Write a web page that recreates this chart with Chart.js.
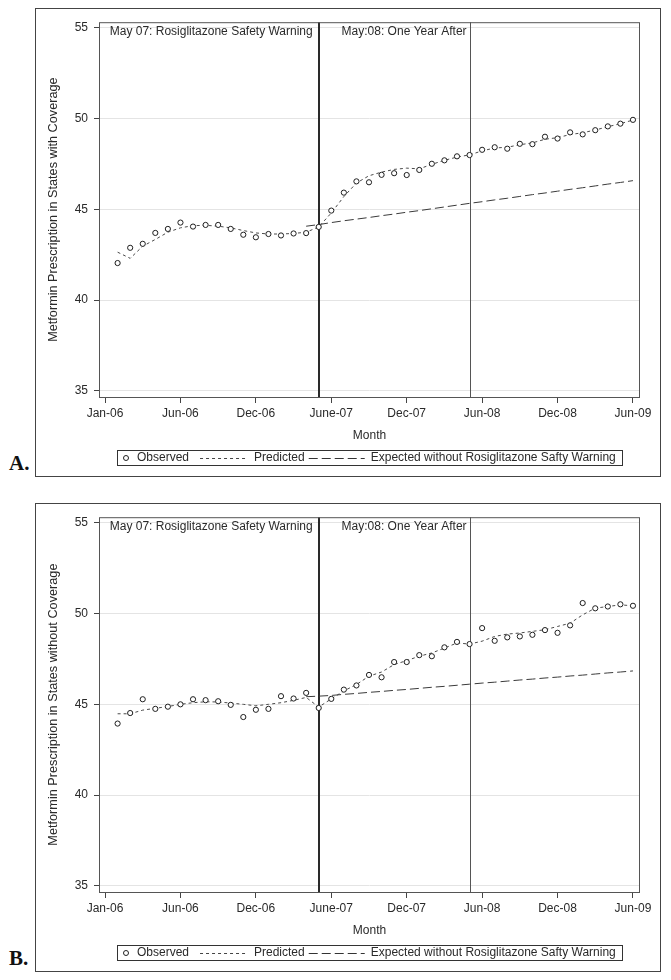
<!DOCTYPE html>
<html>
<head>
<meta charset="utf-8">
<script src="https://cdn.jsdelivr.net/npm/chart.js@4.4.0/dist/chart.umd.min.js"></script>
<style>
  body { margin: 0; background: #fff; }
  .panel { position: absolute; left: 35px; width: 626px; height: 469px; border: 1px solid #444; box-sizing: border-box; }
  .panel canvas { display: block; }
  .tag { position: absolute; left: 9px; font: bold 21px "Liberation Serif", "Times New Roman", serif; line-height: 21px; color: #111; }
</style>
</head>
<body>
<div class="panel" style="top:8px"><canvas id="chart-a" width="624" height="467"></canvas></div>
<div class="tag" style="top:453px">A.</div>
<div class="panel" style="top:503px"><canvas id="chart-b" width="624" height="467"></canvas></div>
<div class="tag" style="top:948px">B.</div>
<script>
// month index, 1 = first observed month
const months = [1,2,3,4,5,6,7,8,9,10,11,12,13,14,15,16,17,18,19,20,21,
  22,23,24,25,26,27,28,29,30,31,32,33,34,35,36,37,38,39,40,41,42]
const expMonths = [16,17,18,19,20,21,22,23,24,25,26,27,28,29,30,31,32,33,34,35,36,37,38,39,40,41,42]

const xTickVals = [0, 6, 12, 18, 24, 30, 36, 42]
const xTickLabels = ["Jan-06", "Jun-06", "Dec-06", "June-07", "Dec-07", "Jun-08", "Dec-08", "Jun-09"]
const yTickVals = [35, 40, 45, 50, 55]

const refLines = [17, 29]
const refLabels = ["May 07: Rosiglitazone Safety Warning", "May:08: One Year After"]
const legendLabels = ["Observed", "Predicted", "Expected without Rosiglitazone Safty Warning"]

// A: states with coverage
const obsA = [42.04,42.88,43.10,43.70,43.92,44.27,44.05,44.14,44.14,43.92,43.60,43.46,43.64,43.56,43.67,43.69,
  44.03,44.93,45.92,46.54,46.49,46.90,46.99,46.89,47.17,47.51,47.70,47.92,47.99,48.28,48.42,48.34,48.61,48.59,
  49.00,48.90,49.24,49.13,49.36,49.57,49.72,49.93]
const predA = [42.64,42.30,42.97,43.34,43.74,43.98,44.10,44.12,44.07,43.98,43.83,43.70,43.64,43.64,43.67,43.74,
  44.03,44.80,45.70,46.45,46.85,47.05,47.20,47.27,47.23,47.48,47.70,47.88,48.00,48.22,48.38,48.42,48.56,48.66,
  48.86,48.95,49.12,49.22,49.37,49.55,49.72,49.92]
const expA = [44.07,44.16,44.27,44.37,44.46,44.55,44.65,44.74,44.84,44.93,45.03,45.13,45.23,45.33,45.42,45.52,
  45.61,45.71,45.81,45.90,46.00,46.10,46.19,46.29,46.39,46.48,46.58]

// B: states without coverage
const obsB = [43.94,44.52,45.28,44.75,44.87,45.00,45.28,45.23,45.17,44.97,44.30,44.70,44.75,45.45,45.32,45.63,
  44.80,45.30,45.81,46.04,46.62,46.49,47.33,47.33,47.71,47.65,48.14,48.44,48.32,49.20,48.50,48.69,48.74,48.83,
  49.09,48.94,49.35,50.58,50.29,50.39,50.51,50.43]
const predB = [44.48,44.48,44.68,44.78,44.88,45.00,45.09,45.14,45.13,45.07,45.00,44.92,45.00,45.09,45.22,45.38,
  44.85,45.30,45.74,46.09,46.55,46.78,47.19,47.41,47.65,47.83,48.10,48.38,48.32,48.48,48.74,48.87,48.93,49.02,
  49.11,49.29,49.47,49.93,50.30,50.39,50.48,50.43]
const expB = [45.42,45.45,45.49,45.55,45.60,45.66,45.71,45.77,45.82,45.88,45.94,45.99,46.05,46.11,46.17,46.22,
  46.28,46.34,46.39,46.45,46.50,46.56,46.61,46.67,46.73,46.78,46.84]

const FAMILY = '"Liberation Sans", Arial, sans-serif'
const FONT = '12px ' + FAMILY
const TEXT = "#2a2a2a"

const pts = (xs, ys) => ys.map((y, i) => ({ x: xs[i], y }))

function drawLegend(ctx, area, top) {
  ctx.save()
  ctx.font = FONT
  const w = legendLabels.map(t => ctx.measureText(t).width)
  const total = Math.round(20 + w[0] + 11 + 47 + 7 + w[1] + 3 + 57 + 6 + w[2] + 6)
  const x0 = Math.round((area.left + area.right) / 2 - total / 2)
  const mid = top + 8
  ctx.strokeStyle = "#333"
  ctx.lineWidth = 1
  ctx.strokeRect(x0 + 0.5, top + 0.5, total, 15)

  ctx.beginPath()
  ctx.arc(x0 + 9, mid, 2.5, 0, Math.PI * 2)
  ctx.strokeStyle = "#222"
  ctx.stroke()

  ctx.fillStyle = TEXT
  ctx.textBaseline = "middle"
  let x = x0 + 20
  ctx.fillText(legendLabels[0], x, mid)
  x += w[0] + 11

  ctx.strokeStyle = "#444"
  ctx.setLineDash([3, 3])
  ctx.beginPath(); ctx.moveTo(x, mid + 0.5); ctx.lineTo(x + 47, mid + 0.5); ctx.stroke()
  x += 47 + 7
  ctx.fillText(legendLabels[1], x, mid)
  x += w[1] + 4

  ctx.strokeStyle = "#333"
  ctx.setLineDash([9, 4])
  ctx.beginPath(); ctx.moveTo(x, mid + 0.5); ctx.lineTo(x + 56, mid + 0.5); ctx.stroke()
  x += 56 + 6
  ctx.setLineDash([])
  ctx.fillText(legendLabels[2], x, mid)
  ctx.restore()
}

const decor = {
  id: "decor",
  beforeDatasetsDraw(chart) {
    const { ctx, chartArea: a, scales } = chart
    ctx.save()
    refLines.forEach((v, i) => {
      const px = Math.round(scales.x.getPixelForValue(v))
      ctx.strokeStyle = i === 0 ? "#2a2a2a" : "#555"
      ctx.lineWidth = i === 0 ? 2 : 1
      ctx.beginPath()
      ctx.moveTo(i === 0 ? px : px + 0.5, a.top)
      ctx.lineTo(i === 0 ? px : px + 0.5, a.bottom)
      ctx.stroke()
    })
    ctx.restore()
  },
  afterDraw(chart) {
    const { ctx, chartArea: a, scales } = chart
    ctx.save()
    ctx.strokeStyle = "#555"
    ctx.lineWidth = 1
    ctx.strokeRect(a.left + 0.5, a.top + 0.5, a.right - a.left - 1, a.bottom - a.top)

    ctx.font = FONT
    ctx.fillStyle = TEXT
    ctx.textAlign = "right"
    ctx.textBaseline = "middle"
    const gaps = [6, 3]
    refLines.forEach((v, i) => {
      const px = scales.x.getPixelForValue(v)
      ctx.fillText(refLabels[i], px - gaps[i], a.top + 9)
    })
    ctx.restore()
    drawLegend(ctx, a, 441)
  }
}

function makeChart(id, yTitle, obs, pred, exp) {
  return new Chart(document.getElementById(id), {
    type: "line",
    data: {
      datasets: [
        {
          label: legendLabels[0],
          data: pts(months, obs),
          showLine: false,
          pointRadius: 2.6,
          pointBorderWidth: 1,
          pointBorderColor: "#1e1e1e",
          pointBackgroundColor: "#fff"
        },
        {
          label: legendLabels[1],
          data: pts(months, pred),
          borderColor: "#4a4a4a",
          borderWidth: 1,
          borderDash: [3, 3],
          pointRadius: 0,
          tension: 0
        },
        {
          label: legendLabels[2],
          data: pts(expMonths, exp),
          borderColor: "#3a3a3a",
          borderWidth: 1,
          borderDash: [9, 4],
          pointRadius: 0,
          tension: 0
        }
      ]
    },
    options: {
      responsive: false,
      animation: false,
      devicePixelRatio: 1,
      layout: { padding: { top: 11, right: 20, left: 0, bottom: 33 } },
      plugins: { legend: { display: false }, tooltip: { enabled: false } },
      scales: {
        x: {
          type: "linear",
          min: -0.48,
          max: 42.56,
          afterBuildTicks: s => { s.ticks = xTickVals.map(v => ({ value: v })) },
          afterFit: s => { s.height = 46 },
          ticks: {
            autoSkip: false,
            maxRotation: 0,
            padding: 3,
            color: TEXT,
            font: { family: FAMILY, size: 12 },
            callback: (v, i) => xTickLabels[i]
          },
          grid: { drawOnChartArea: false, tickLength: 6, tickColor: "#444" },
          border: { display: false },
          title: {
            display: true,
            text: "Month",
            color: TEXT,
            padding: { top: 0, bottom: 0 },
            font: { family: FAMILY, size: 12 }
          }
        },
        y: {
          min: 34.66,
          max: 55.31,
          afterBuildTicks: s => { s.ticks = yTickVals.map(v => ({ value: v })) },
          afterFit: s => { s.width = 63 },
          ticks: {
            padding: 6,
            color: TEXT,
            font: { family: FAMILY, size: 12 },
            callback: v => String(v)
          },
          grid: { color: "#e4e4e4", tickLength: 5, tickColor: "#444" },
          border: { display: false },
          title: {
            display: true,
            text: yTitle,
            color: TEXT,
            padding: { top: 10, bottom: 0 },
            font: { family: FAMILY, size: 12.7 }
          }
        }
      }
    },
    plugins: [decor]
  })
}

makeChart("chart-a", "Metformin Prescription in States with Coverage", obsA, predA, expA)
makeChart("chart-b", "Metformin Prescription in States without Coverage", obsB, predB, expB)
</script>
</body>
</html>
